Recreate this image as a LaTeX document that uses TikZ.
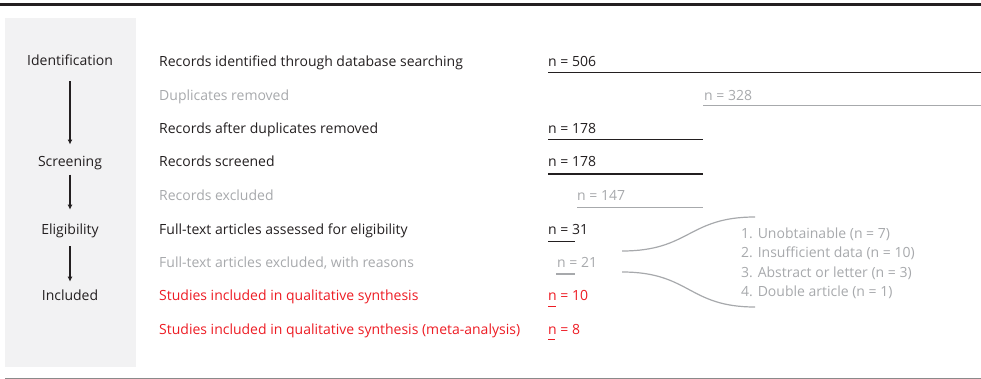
\documentclass[tikz,border=0pt]{standalone}
\usepackage{fontspec}
\setmainfont{Open Sans}
\usetikzlibrary{positioning, arrows.meta}
\definecolor{txtdark}{HTML}{231F20}
\definecolor{txtgray}{HTML}{A7A9AC}
\definecolor{txtred}{HTML}{ED1C24}
\definecolor{boxgray}{HTML}{F2F2F3}
\definecolor{rulegray}{HTML}{8A8A8A}

\begin{document}
\begin{tikzpicture}[x=1pt, y=-1pt, every node/.style={font=\fontsize{14}{16}\selectfont, inner sep=0pt}]

	\tikzstyle{stage} = [text=txtdark, anchor=base]
	\tikzstyle{rowtxt} = [anchor=base west]
	\tikzstyle{kept} = [rowtxt, text=txtdark]
	\tikzstyle{dropped} = [rowtxt, text=txtgray]
	\tikzstyle{final} = [rowtxt, text=txtred]
	\tikzstyle{bar} = [draw=txtdark, line width=1.4pt]
	\tikzstyle{graybar} = [draw=txtgray, line width=1.2pt]
	\tikzstyle{redbar} = [draw=txtred, line width=1.4pt]
	\tikzstyle{flow} = [draw=txtdark, line width=1.2pt, -{Latex[length=5pt, width=5pt]}]
	\tikzstyle{fan} = [draw=txtgray, line width=1.2pt]

	\useasboundingbox (0,0) rectangle (981,379);

	% frame
	\fill[boxgray] (5,18) rectangle (136,367);
	\draw[txtdark, line width=3pt] (0,4.7) -- (981,4.7);
	\draw[rulegray, line width=1pt] (5,378) -- (981,378);

	% stages
	\node[stage] (ident) at (70,66) {Identification};
	\node[stage] (screen) at (70,167) {Screening};
	\node[stage] (elig) at (70,234.5) {Eligibility};
	\node[stage] (incl) at (70,300.5) {Included};

	\path[flow, shorten <=15pt, shorten >=12pt] (ident) -- (screen);
	\path[flow, shorten <=4pt, shorten >=14pt] (screen) -- (elig);
	\path[flow, shorten <=8pt, shorten >=8pt] (elig) -- (incl);

	% rows
	\node[kept] (r1) at (159,66.7) {Records identified through database searching};
	\node[dropped] (r2) at (159,100.1) {Duplicates removed};
	\node[kept] (r3) at (159,133.6) {Records after duplicates removed};
	\node[kept] (r4) at (159,167) {Records screened};
	\node[dropped] (r5) at (159,200.5) {Records excluded};
	\node[kept] (r6) at (159,234) {Full-text articles assessed for eligibility};
	\node[dropped] (r7) at (159,267.4) {Full-text articles excluded, with reasons};
	\node[final] (r8) at (159,300.8) {Studies included in qualitative synthesis};
	\node[final] (r9) at (159,334.2) {Studies included in qualitative synthesis (meta-analysis)};

	% counts
	\node[kept] (n1) at (548,66.7) {n = 506};
	\node[dropped] (n2) at (704,100.1) {n = 328};
	\node[kept] (n3) at (548,133.6) {n = 178};
	\node[kept] (n4) at (548,167) {n = 178};
	\node[dropped] (n5) at (577,200.5) {n = 147};
	\node[kept] (n6) at (548,234) {n = 31};
	\node[dropped] (n7) at (557,267.4) {n = 21};
	\node[final] (n8) at (548,300.8) {n = 10};
	\node[final] (n9) at (548,334.2) {n = 8};

	% bars
	\draw[bar] (548,72.3) -- (981,72.3);
	\draw[graybar] (703,105.7) -- (981,105.7);
	\draw[bar] (548,139.7) -- (703,139.7);
	\draw[bar] (548,174) -- (703,174);
	\draw[graybar] (577,207.3) -- (703,207.3);
	\draw[bar] (548,241.7) -- (575,241.7);
	\draw[graybar] (556,274) -- (575,274);
	\draw[redbar] (548,306.7) -- (555.5,306.7);
	\draw[redbar] (548,339.3) -- (555,339.3);

	% reasons
	\node[dropped] (why1) at (741,238) {1. Unobtainable (n = 7)};
	\node[dropped] (why2) at (741,257.6) {2. Insufficient data (n = 10)};
	\node[dropped] (why3) at (741,277.2) {3. Abstract or letter (n = 3)};
	\node[dropped] (why4) at (741,296.8) {4. Double article (n = 1)};

	\coordinate (fanA) at (622,251);
	\coordinate (fanB) at (622,272);
	\coordinate (fanTop) at (755,217);
	\coordinate (fanBot) at (755,307);
	\path[fan] (fanA) .. controls (690,251) and (688,217) .. (fanTop);
	\path[fan] (fanB) .. controls (690,272) and (688,307) .. (fanBot);
\end{tikzpicture}
\end{document}
